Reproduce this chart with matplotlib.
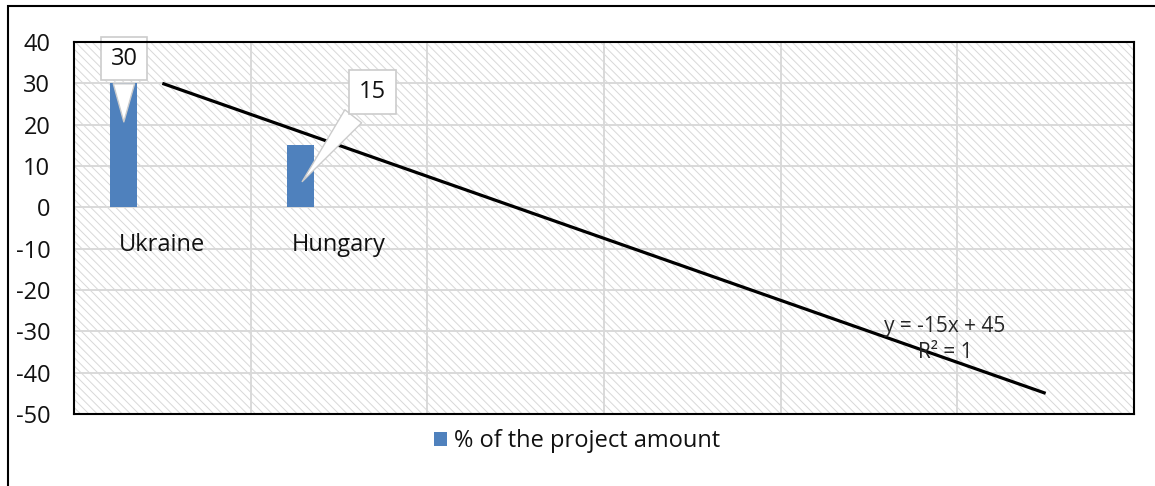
import numpy as np
import matplotlib
matplotlib.use("Agg")
import matplotlib.pyplot as plt
from matplotlib.patches import Rectangle
from matplotlib.transforms import offset_copy

plt.rcParams['font.family'] = ['Open Sans', 'DejaVu Sans']
plt.rcParams['hatch.linewidth'] = 0.7

# data
categories = ["Ukraine", "Hungary"]
values = [30, 15]
series_name = "% of the project amount"
forecast_forward = 4
y_ticks = [40, 30, 20, 10, 0, -10, -20, -30, -40, -50]

bar_color = "#4f81bd"
grid_color = "#d9d9d9"

W, H = 1155, 486
fig = plt.figure(figsize=(W / 100, H / 100), dpi=100)

# outer chart frame (left and top edges visible)
fig.patches.append(Rectangle((8 / W, -0.1), 1.2, 1 - 6 / H + 0.1,
                             transform=fig.transFigure, fill=False,
                             edgecolor="black", linewidth=1.5))

ax = fig.add_axes([74 / W, 1 - 414 / H, (1134 - 74) / W, (414 - 42) / H])
n_slots = len(categories) + forecast_forward
ax.set_xlim(0.5, n_slots + 0.5)
ax.set_ylim(-50, 40)

# hatched plot area
ax.add_patch(Rectangle((0, 0), 1, 1, transform=ax.transAxes, facecolor="white",
                       edgecolor="#d8d8d8", hatch="\\\\\\\\", linewidth=0, zorder=0))

# gridlines
for yv in y_ticks:
    ax.axhline(yv, color=grid_color, linewidth=1.4, zorder=1)
for xv in np.arange(1.5, n_slots, 1.0):
    ax.axvline(xv, color=grid_color, linewidth=1.4, zorder=1)

x = np.arange(1, len(categories) + 1)
ax.bar(x - 0.218, values, width=0.153, color=bar_color, zorder=3, label=series_name)

# linear trendline with forward forecast
slope, intercept = np.polyfit(x, values, 1)
xt = np.array([1, len(categories) + forecast_forward])
ax.plot(xt, slope * xt + intercept, color="black", linewidth=2.3, zorder=4,
        solid_capstyle="butt")
resid = np.array(values) - (slope * x + intercept)
ss_tot = np.sum((np.array(values) - np.mean(values)) ** 2)
r2 = 1 - np.sum(resid ** 2) / ss_tot
ax.text(5.43, -32.0, f"y = {slope:g}x + {intercept:g}\nR² = {r2:g}", ha="center",
        va="center", multialignment="center", fontsize=15, color="#262626",
        linespacing=1.3, zorder=5)

# category labels just below the zero line
lab_tr = offset_copy(ax.transData, fig=fig, x=0, y=-38, units="dots")
for xi, name in zip(x, categories):
    ax.text(xi, 0, name, transform=lab_tr, ha="center", va="center",
            fontsize=17, color="#111111")

# callout data labels
callout_pos = [(0.783, 36.0), (2.19, 28.0)]
tip_frac = [2 / 3, 0.38]
for xi, v, (cx, cy), tf in zip(x, values, callout_pos, tip_frac):
    ax.annotate(f"{v:g}", xy=(xi - 0.218, v * tf), xytext=(cx, cy),
                ha="center", va="center", fontsize=17, color="#111111", zorder=6,
                bbox=dict(boxstyle="square,pad=0.42", fc="white", ec="#cccccc", lw=1.2),
                arrowprops=dict(arrowstyle="wedge,tail_width=0.9,shrink_factor=0.5",
                                fc="white", ec="#cccccc", lw=1.0))

ax.set_xticks([])
ax.set_yticks(y_ticks)
ax.set_yticklabels([f"{t}" for t in y_ticks], fontsize=17, color="#111111")
ax.tick_params(axis="y", length=0, pad=17)
for s in ax.spines.values():
    s.set_color("black")
    s.set_linewidth(1.5)
    s.set_zorder(7)

leg = fig.legend(loc="center", bbox_to_anchor=(0.5, 1 - 441 / H), frameon=False,
                 fontsize=17, handlelength=0.55, handleheight=0.55, handletextpad=0.3,
                 labelcolor="#111111")

fig.savefig("out.png", dpi=100)
